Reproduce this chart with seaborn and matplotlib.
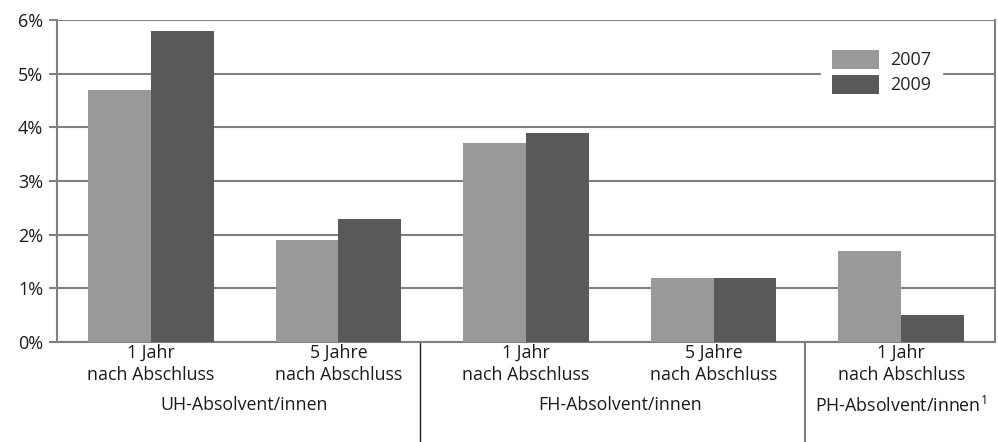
import matplotlib
matplotlib.use("Agg")
import matplotlib.pyplot as plt
import seaborn as sns
import pandas as pd
from matplotlib.ticker import FuncFormatter

categories = ["UH 1 Jahr", "UH 5 Jahre", "FH 1 Jahr", "FH 5 Jahre", "PH 1 Jahr"]
tick_labels = ["1 Jahr\nnach Abschluss", "5 Jahre\nnach Abschluss",
               "1 Jahr\nnach Abschluss", "5 Jahre\nnach Abschluss",
               "1 Jahr\nnach Abschluss"]
values_2007 = [4.7, 1.9, 3.7, 1.2, 1.7]
values_2009 = [5.8, 2.3, 3.9, 1.2, 0.5]
years = ["2007", "2009"]
group_labels = ["UH-Absolvent/innen", "FH-Absolvent/innen", "PH-Absolvent/innen$^{1}$"]
group_centers = [0.5, 2.5, 4.0]
separators = [1.5 - 0.065, 3.5 - 0.015]

sns.set_theme(style="white")
plt.rcParams["font.family"] = ["Open Sans", "DejaVu Sans"]
plt.rcParams["mathtext.default"] = "regular"

df = pd.DataFrame({
    "cat": categories * 2,
    "year": [years[0]] * 5 + [years[1]] * 5,
    "val": values_2007 + values_2009,
})

fig = plt.figure(figsize=(9.98, 4.42), dpi=100)
ax = fig.add_axes([0.0571, 0.2262, 0.9399, 0.7286])

grid_c = "#808080"
txt_c = "#1a1a1a"
sns.barplot(data=df, x="cat", y="val", hue="year", order=categories,
            palette={"2007": "#999999", "2009": "#595959"},
            width=0.67, saturation=1, ax=ax, legend=True, zorder=3,
            linewidth=0, edgecolor="none")

ax.set_ylim(0, 6)
ax.set_xlim(-0.5, 4.5)
ax.set_yticks(range(0, 7))
ax.yaxis.set_major_formatter(FuncFormatter(lambda v, p: f"{int(v)}%"))
ax.grid(axis="y", color=grid_c, linewidth=1.5, zorder=0)
ax.set_axisbelow(True)
ax.set_xlabel("")
ax.set_ylabel("")
ax.set_xticks(range(5))
ax.set_xticklabels(tick_labels, fontsize=12.8, color=txt_c, linespacing=1.3)
ax.tick_params(axis="x", length=0, pad=1)
ax.tick_params(axis="y", length=6, width=1.5, color=grid_c, labelsize=13,
               labelcolor=txt_c, pad=4, left=True)
for s in ["left", "bottom", "right"]:
    ax.spines[s].set_color(grid_c)
    ax.spines[s].set_linewidth(1.5)
ax.spines["top"].set_visible(False)

for lab, c in zip(group_labels, group_centers):
    ax.text(c, -0.197, lab, transform=ax.get_xaxis_transform(), ha="center",
            va="center", fontsize=12.8, color=txt_c)

for i, sx in enumerate(separators):
    ax.plot([sx, sx], [0, -0.35], transform=ax.get_xaxis_transform(),
            color="#222222" if i == 0 else grid_c, linewidth=1 if i == 0 else 1.5,
            clip_on=False)

leg = ax.legend(loc="upper left", bbox_to_anchor=(0.805, 0.97), frameon=True,
                fontsize=13, handlelength=2.6, handleheight=1.25, handletextpad=0.6,
                labelspacing=0.3, borderpad=0.6, title=None)
leg.get_frame().set_facecolor("white")
leg.get_frame().set_edgecolor("white")
leg.get_frame().set_alpha(1)
leg.set_zorder(5)

fig.savefig("out.png", dpi=100)
